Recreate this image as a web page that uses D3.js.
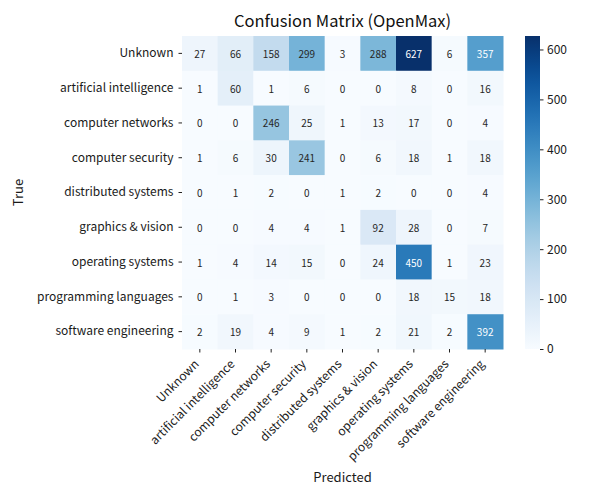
<!DOCTYPE html>
<html><head><meta charset="utf-8">
<script src="https://cdn.jsdelivr.net/npm/d3@7"></script>
<style>body{margin:0;background:#fff}svg{font-family:"Noto Sans CJK KR","Noto Sans",sans-serif}</style>
</head><body>
<svg id="c" width="600" height="500"></svg>
<script>
const categories = ["Unknown","artificial intelligence","computer networks","computer security","distributed systems","graphics & vision","operating systems","programming languages","software engineering"];
const matrix = [
  [27,66,158,299,3,288,627,6,357],
  [1,60,1,6,0,0,8,0,16],
  [0,0,246,25,1,13,17,0,4],
  [1,6,30,241,0,6,18,1,18],
  [0,1,2,0,1,2,0,0,4],
  [0,0,4,4,1,92,28,0,7],
  [1,4,14,15,0,24,450,1,23],
  [0,1,3,0,0,0,18,15,18],
  [2,19,4,9,1,2,21,2,392]
];
const cbarTicks = [0,100,200,300,400,500,600];

const FONT='"Noto Sans CJK KR","Noto Sans",sans-serif';
const svg = d3.select("#c");
const L=182, R=503, T=36, B=349;
const x = d3.scaleBand().domain(categories).range([L,R]);
const y = d3.scaleBand().domain(categories).range([T,B]);
const vmax = d3.max(matrix.flat());
const color = d3.scaleSequential(d3.interpolateBlues).domain([0,vmax]);

const cells = [];
matrix.forEach((row,i)=>row.forEach((v,j)=>cells.push({r:categories[i],c:categories[j],v})));

function lum(c){
  const rgb=d3.rgb(c);
  const f=u=>{u/=255;return u<=0.03928?u/12.92:Math.pow((u+0.055)/1.055,2.4);};
  return 0.2126*f(rgb.r)+0.7152*f(rgb.g)+0.0722*f(rgb.b);
}

svg.append("g").selectAll("rect").data(cells).join("rect")
  .attr("x",d=>x(d.c)).attr("y",d=>y(d.r))
  .attr("width",x.bandwidth()+0.5).attr("height",y.bandwidth()+0.5)
  .attr("fill",d=>color(d.v));

svg.append("g").selectAll("text").data(cells).join("text")
  .attr("x",d=>x(d.c)+x.bandwidth()/2).attr("y",d=>y(d.r)+y.bandwidth()/2)
  .attr("text-anchor","middle").attr("dominant-baseline","central")
  .attr("font-size",10)
  .attr("fill",d=>lum(color(d.v))>0.408?"#262626":"#ffffff")
  .text(d=>d.v);

// y axis
const ya = svg.append("g").attr("transform",`translate(${L},0)`)
  .call(d3.axisLeft(y).tickSize(3.5).tickPadding(5));
ya.select(".domain").remove();
ya.selectAll("text").attr("font-size",12).attr("fill","#1a1a1a").style("font-family",FONT);
ya.selectAll("line").attr("stroke","#222");

// x axis
const xa = svg.append("g").attr("transform",`translate(0,${B})`)
  .call(d3.axisBottom(x).tickSize(3.5).tickPadding(3.5));
xa.select(".domain").remove();
xa.selectAll("line").attr("stroke","#222");
xa.selectAll("text").attr("font-size",12).attr("fill","#1a1a1a")
  .style("font-family",FONT)
  .attr("x",0).attr("y",0).attr("dy",null)
  .attr("text-anchor","end").attr("dominant-baseline","central")
  .attr("transform","translate(-4,12) rotate(-45)");

// colorbar
const cbX=525, cbW=15;
const cy = d3.scaleLinear().domain([0,vmax]).range([B,T]);
const defs = svg.append("defs");
const grad = defs.append("linearGradient").attr("id","g").attr("x1",0).attr("y1",1).attr("x2",0).attr("y2",0);
d3.range(0,1.0001,0.05).forEach(t=>grad.append("stop").attr("offset",t).attr("stop-color",color(t*vmax)));
svg.append("rect").attr("x",cbX).attr("y",T).attr("width",cbW).attr("height",B-T).attr("fill","url(#g)");
const ca = svg.append("g").attr("transform",`translate(${cbX+cbW},0)`)
  .call(d3.axisRight(cy).tickValues(cbarTicks).tickSize(3.5).tickPadding(3.5));
ca.select(".domain").remove();
ca.selectAll("line").attr("stroke","#222");
ca.selectAll("text").attr("font-size",12).attr("fill","#1a1a1a").style("font-family",FONT);

// title & labels
svg.append("text").attr("x",(L+R)/2).attr("y",27).attr("text-anchor","middle")
  .attr("font-size",16.5).attr("fill","#111").text("Confusion Matrix (OpenMax)");
svg.append("text").attr("x",(L+R)/2).attr("y",482).attr("text-anchor","middle")
  .attr("font-size",13).attr("fill","#1a1a1a").text("Predicted");
svg.append("text").attr("transform",`translate(23,${(T+B)/2}) rotate(-90)`).attr("text-anchor","middle")
  .attr("font-size",13).attr("fill","#1a1a1a").text("True");
</script>
</body></html>
